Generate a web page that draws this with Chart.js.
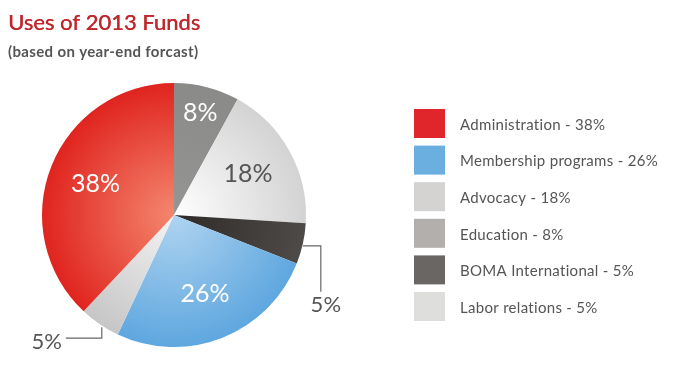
<!DOCTYPE html>
<html><head><meta charset="utf-8">
<script src="https://cdn.jsdelivr.net/npm/chart.js@4/dist/chart.umd.min.js"></script>
<style>html,body{margin:0;padding:0;background:#fff;}#wrap{position:relative;width:679px;height:379px;}</style>
</head><body><div id="wrap"><canvas id="c" width="679" height="379"></canvas></div>
<script>
// Data (pie order, clockwise from 12 o'clock)
const categories = ["Education", "Advocacy", "BOMA International", "Membership programs", "Labor relations", "Administration"];
const values = [8, 18, 5, 26, 5, 38];
// Legend order
const legendOrder = ["Administration", "Membership programs", "Advocacy", "Education", "BOMA International", "Labor relations"];
const titleText = "Uses of 2013 Funds";
const subtitleText = "(based on year-end forcast)";

const sliceColors = {
  "Education": ["#959594", "#8a8a89"],
  "Advocacy": ["#ffffff", "#d3d3d3"],
  "BOMA International": ["#2e2a28", "#4e4a48"],
  "Membership programs": ["#b0d4f0", "#5ea7df"],
  "Labor relations": ["#f4f4f4", "#c6c6c6"],
  "Administration": ["#f4876e", "#e0241f"]
};
const legendColors = {
  "Administration": "#e0262a",
  "Membership programs": "#6aafe0",
  "Advocacy": "#d5d3d1",
  "Education": "#b3afad",
  "BOMA International": "#6a6664",
  "Labor relations": "#dededd"
};
const innerLabelColors = {"Advocacy": "#555555"};
const FONT = "Lato, 'Open Sans', sans-serif";
const TXT = "#555555";

const labelsPlugin = {
  id: 'labelsPlugin',
  afterDraw(chart) {
    const ctx = chart.ctx;
    const meta = chart.getDatasetMeta(0);
    ctx.save();
    // title
    ctx.textBaseline = 'alphabetic';
    ctx.textAlign = 'left';
    ctx.fillStyle = '#c1272d';
    ctx.letterSpacing = "0px";
    ctx.font = "22px " + FONT;
    ctx.fillText(titleText, 8, 30);
    ctx.fillText(titleText, 8.4, 30);
    ctx.fillStyle = TXT;
    ctx.letterSpacing = "0.35px";
    ctx.font = "bold 15px " + FONT;
    ctx.fillText(subtitleText, 8, 57);
    ctx.letterSpacing = "0px";

    // inner & outer labels
    meta.data.forEach((arc, i) => {
      const p = arc.getProps(['x','y','startAngle','endAngle','outerRadius'], true);
      const mid = (p.startAngle + p.endAngle) / 2;
      const name = categories[i];
      const txt = values[i] + "%";
      if (values[i] >= 8) {
        const f = values[i] < 10 ? 0.8 : 0.64;
        const x = p.x + Math.cos(mid) * p.outerRadius * f;
        const y = p.y + Math.sin(mid) * p.outerRadius * f;
        ctx.fillStyle = innerLabelColors[name] || '#ffffff';
        ctx.font = "25px " + FONT;
        ctx.textAlign = 'center';
        ctx.textBaseline = 'middle';
        ctx.fillText(txt, x, y);
      } else {
        const ex = p.x + Math.cos(mid) * p.outerRadius;
        const ey = p.y + Math.sin(mid) * p.outerRadius;
        ctx.strokeStyle = '#666666';
        ctx.lineWidth = 1.2;
        ctx.beginPath();
        let lx, ly;
        if (Math.cos(mid) > 0) {
          ctx.moveTo(ex, ey + 2);
          ctx.lineTo(ex + 18, ey + 2);
          ctx.lineTo(ex + 18, ey + 48);
          lx = ex + 23; ly = ey + 61;
        } else {
          ctx.moveTo(ex + 2, ey + 3);
          ctx.lineTo(ex + 2, ey + 14);
          ctx.lineTo(ex - 34, ey + 14);
          lx = ex - 53; ly = ey + 18;
        }
        ctx.stroke();
        ctx.fillStyle = TXT;
        ctx.font = "22px " + FONT;
        ctx.textAlign = 'center';
        ctx.textBaseline = 'middle';
        ctx.fillText(txt, lx, ly);
      }
    });

    // legend
    legendOrder.forEach((name, k) => {
      const i = categories.indexOf(name);
      const y0 = 109 + k * 36.6;
      ctx.fillStyle = legendColors[name];
      ctx.fillRect(414, y0, 31, 29);
      ctx.fillStyle = TXT;
      ctx.font = "15px " + FONT;
      ctx.letterSpacing = "0.3px";
      ctx.textAlign = 'left';
      ctx.textBaseline = 'middle';
      ctx.fillText(name + " - " + values[i] + "%", 460, y0 + 16);
      ctx.letterSpacing = "0px";
    });
    ctx.restore();
  }
};

new Chart(document.getElementById('c'), {
  type: 'pie',
  data: {
    labels: categories,
    datasets: [{
      data: values,
      borderWidth: 0,
      backgroundColor: (c) => {
        const chart = c.chart;
        const area = chart.chartArea;
        const name = categories[c.dataIndex];
        if (!area) return sliceColors[name][1];
        const cx = (area.left + area.right) / 2, cy = (area.top + area.bottom) / 2;
        const r = Math.min(area.right - area.left, area.bottom - area.top) / 2;
        const g = chart.ctx.createRadialGradient(cx, cy, 0, cx, cy, r);
        g.addColorStop(0, sliceColors[name][0]);
        g.addColorStop(1, sliceColors[name][1]);
        return g;
      }
    }]
  },
  options: {
    responsive: false,
    animation: false,
    layout: { padding: { left: 42, top: 83, right: 373, bottom: 32 } },
    plugins: { legend: { display: false }, tooltip: { enabled: false } }
  },
  plugins: [labelsPlugin]
});
</script></body></html>
